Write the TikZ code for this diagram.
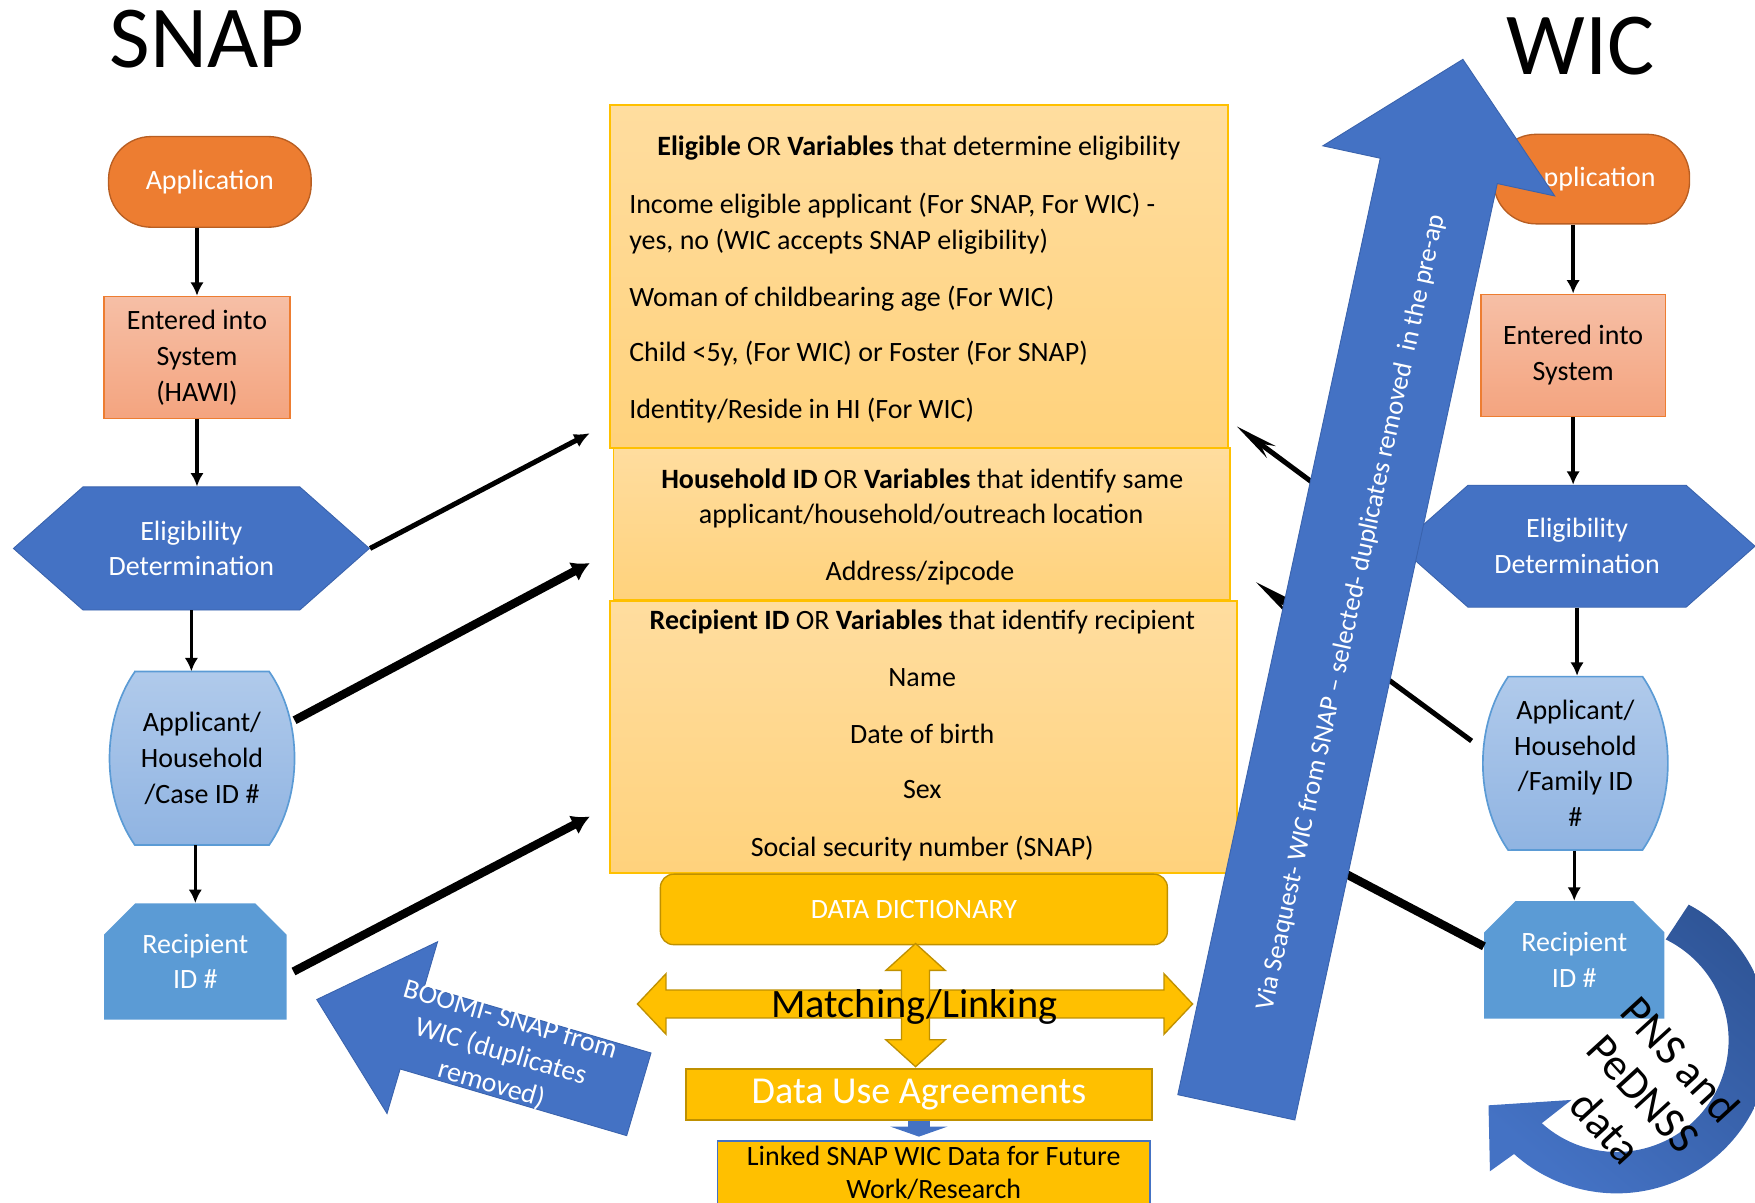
\documentclass[tikz,border=0pt]{standalone}
\usepackage{fontspec}
\setmainfont{Carlito}
\usetikzlibrary{arrows.meta,shapes.misc,shapes.symbols,calc}

\definecolor{appOrange}{HTML}{ED7D31}
\definecolor{appLine}{HTML}{B85E22}
\definecolor{entTop}{HTML}{F6BFA6}
\definecolor{entBot}{HTML}{F4A47F}
\definecolor{hexBlue}{HTML}{4472C4}
\definecolor{hexLine}{HTML}{3A63AD}
\definecolor{idTop}{HTML}{B0CAEB}
\definecolor{idBot}{HTML}{90B4E2}
\definecolor{idLine}{HTML}{5B9BD5}
\definecolor{recBlue}{HTML}{5B9BD5}
\definecolor{varTop}{HTML}{FFDD9F}
\definecolor{varBot}{HTML}{FFD27C}
\definecolor{gold}{HTML}{FFC000}
\definecolor{goldLine}{HTML}{BF9000}
\definecolor{darkBlue}{HTML}{2F5597}

% barrel outline behind the household id nodes (centre x, centre y)
\newcommand{\barrel}[2]{%
  \path[idshape] (#1-60,#2-77.5) -- (#1+60,#2-77.5)
    arc[start angle=-43.5, end angle=43.5, x radius=82.5, y radius=112.5]
    -- (#1-60,#2+77.5)
    arc[start angle=136.5, end angle=223.5, x radius=82.5, y radius=112.5] -- cycle;}

\begin{document}
\begin{tikzpicture}[x=1pt, y=-1pt,
  every node/.style={font=\fontsize{25}{32}\selectfont, inner sep=0pt, align=center},
  term/.style={draw=appLine, line width=1.2pt, fill=appOrange, rounded corners=38pt, minimum width=181pt, minimum height=81pt, text=white},
  entry/.style={draw=appOrange, line width=1.5pt, top color=entTop, bottom color=entBot, minimum width=166pt, minimum height=109pt},
  hexa/.style={signal, signal to=west and east, signal pointer angle=83, fill=hexBlue, draw=hexLine, line width=.8pt, minimum width=318pt, minimum height=110pt, text=white},
  idshape/.style={draw=idLine, line width=1.5pt, top color=idTop, bottom color=idBot},
  hhid/.style={minimum width=165pt, minimum height=155pt},
  recid/.style={chamfered rectangle, chamfered rectangle corners={north west,north east}, chamfered rectangle xsep=14pt, chamfered rectangle ysep=14pt, fill=recBlue, minimum width=163pt, minimum height=104pt, text=white},
  varbox/.style={draw=gold, line width=1.5pt, top color=varTop, bottom color=varBot},
  vtxt/.style={anchor=base},
  gbox/.style={fill=gold, draw=goldLine, line width=1.2pt},
  flow/.style={-{Latex[length=12pt,width=12pt]}, line width=3pt},
  link/.style={-{Latex[length=16pt,width=19pt]}, line width=7.5pt},
  back/.style={-{Stealth[length=38pt,width=13pt]}, line width=4.5pt},
  bigarrow/.style={fill=hexBlue, draw=hexLine, line width=.8pt},
  dbl/.style={fill=gold, draw=goldLine, line width=1.2pt}
]
\useasboundingbox (0,0) rectangle (1568,1074);

\node[anchor=base, font=\fontsize{79}{79}\selectfont] (snap) at (185,60) {SNAP};
\node[anchor=base, font=\fontsize{79}{79}\selectfont] (wic) at (1412.5,67) {WIC};

% SNAP side
\node[term] (appS) at (187.5,162.5) {Application};
\node[entry] (entS) at (176,319.5) {Entered into\\System\\(HAWI)};
\node[hexa] (eligS) at (171,490) {Eligibility\\Determination};
\barrel{180.5}{677.5}
\node[hhid] (hhS) at (180.5,677.5) {Applicant/\\Household\\/Case ID \#};
\node[recid] (recS) at (174.5,859) {Recipient\\ID \#};

\draw[flow] (entS.north |- appS.south) -- (entS.north);
\draw[flow] (entS.south) -- (entS.south |- eligS.north);
\draw[flow] (eligS.south) -- (eligS.south |- hhS.north);
\draw[flow] (recS.north |- hhS.south) -- (recS.north);

% variables
\node[varbox, minimum width=552pt, minimum height=306pt] (var1) at (821,247) {};
\node[varbox, minimum width=551pt, minimum height=136pt] (var2) at (823.5,468) {};
\node[varbox, minimum width=560pt, minimum height=243pt] (var3) at (825,658.5) {};

\node[vtxt] (t11) at (821,139) {\textbf{Eligible} OR \textbf{Variables} that determine eligibility};
\node[vtxt, anchor=base west] (t12) at (562,191) {Income eligible applicant (For SNAP, For WIC) -};
\node[vtxt, anchor=base west] (t13) at (562,223) {yes, no (WIC accepts SNAP eligibility)};
\node[vtxt, anchor=base west] (t14) at (562,274) {Woman of childbearing age (For WIC)};
\node[vtxt, anchor=base west] (t15) at (562,323) {Child <5y, (For WIC) or Foster (For SNAP)};
\node[vtxt, anchor=base west] (t16) at (562,374) {Identity/Reside in HI (For WIC)};

\node[vtxt] (t21) at (824,436) {\textbf{Household ID} OR \textbf{Variables} that identify same};
\node[vtxt] (t22) at (823,468) {applicant/household/outreach location};
\node[vtxt] (t23) at (822,519) {Address/zipcode};

\node[vtxt] (t31) at (824,562) {\textbf{Recipient ID} OR \textbf{Variables} that identify recipient};
\node[vtxt] (t32) at (824,613) {Name};
\node[vtxt] (t33) at (824,664) {Date of birth};
\node[vtxt] (t34) at (824,713) {Sex};
\node[vtxt] (t35) at (824,765) {Social security number (SNAP)};

% dictionary and matching
\node[gbox, rounded corners=12pt, minimum width=453pt, minimum height=63pt, text=white] (dict) at (816.5,812.5) {DATA DICTIONARY};
\path[dbl] (569.5,897) -- (595,870) -- (595,884.5) -- (1040,884.5) -- (1040,870) -- (1065.5,897)
  -- (1040,924) -- (1040,909.5) -- (595,909.5) -- (595,924) -- cycle;
\path[dbl] (818,843) -- (844.5,867) -- (830.5,867) -- (830.5,929) -- (844.5,929) -- (818,953)
  -- (791.5,929) -- (805.5,929) -- (805.5,867) -- (791.5,867) -- cycle;
\node[font=\fontsize{36}{36}\selectfont] (match) at (817,900) {Matching/Linking};
\node[gbox, minimum width=416.5pt, minimum height=45.5pt, text=white, font=\fontsize{34}{34}\selectfont] (dua) at (821,977.75) {Data Use Agreements};
\node[fill=gold, draw=hexBlue, line width=1.5pt, anchor=north, inner ysep=1pt, minimum width=386.5pt, minimum height=58pt, font=\fontsize{25}{29.5}\selectfont] (linked) at (834.25,1018.5) {Linked SNAP WIC Data for Future\\Work/Research};
\draw[-{Triangle[length=9pt,width=51pt]}, line width=19pt, hexBlue, shorten >=3pt] (dua.south) -- (dua.south |- linked.north);

% links from SNAP
\coordinate (inElig) at (527,387);
\coordinate (inHouse) at (527,503);
\coordinate (inRecip) at (527,729.5);
\draw[-{Latex[length=14pt,width=13pt]}, line width=4.5pt] (eligS.east) -- (inElig);
\draw[link] ([yshift=34pt]hhS.east) -- (inHouse);
\draw[link] ([xshift=6pt,yshift=-9pt]recS.east) -- (inRecip);

% WIC side
\node[term, minimum width=175pt, minimum height=80pt] (appW) at (1422,160) {Application};
\node[entry, minimum width=165pt] (entW) at (1405.5,317.5) {Entered into\\System};
\node[hexa, minimum height=109pt] (eligW) at (1409,488) {Eligibility\\Determination};
\barrel{1407.5}{682}
\node[hhid, minimum height=156pt] (hhW) at (1407.5,682) {Applicant/\\Household\\/Family ID\\\#};
\node[recid, minimum width=161pt, minimum height=105pt] (recW) at (1406.5,857.5) {Recipient\\ID \#};

\draw[flow] (entW.north |- appW.south) -- (entW.north);
\draw[flow] (entW.south) -- (entW.south |- eligW.north);
\draw[flow] (eligW.south) -- (eligW.south |- hhW.north);
\draw[flow] (recW.north |- hhW.south) -- (recW.north);

\coordinate (wElig) at (1105,381);
\coordinate (wHouse) at (1122,520);
\draw[back] (eligW.west) -- (wElig);
\draw[back] ([xshift=-10pt,yshift=20pt]hhW.west) -- (wHouse);
\draw[link] ([yshift=12pt]recW.west) -- ([yshift=-71.5pt]var3.east);

% Seaquest arrow
\begin{scope}[shift={(1307,53)}, rotate=-102.2]
  \path[bigarrow] (0,0) -- (102,-106) -- (102,-53.5) -- (958,-53.5) -- (958,53.5) -- (102,53.5) -- (102,106) -- cycle;
  \node[rotate=77.8, text=white, font=\fontsize{23.8}{28}\selectfont] (seaq) at (504,-7)
    {Via Seaquest- WIC from SNAP -- selected- duplicates removed\ \ in the pre-ap};
\end{scope}

% BOOMI arrow
\begin{scope}[shift={(283,893)}, rotate=-16.4]
  \path[bigarrow] (0,0) -- (89,-80) -- (89,-38.5) -- (300,-38.5) -- (300,38.5) -- (89,38.5) -- (89,80) -- cycle;
  \node[rotate=-16.4, text=white, font=\fontsize{25}{30}\selectfont] (boomi) at (171,-1)
    {BOOMI- SNAP from\\WIC (duplicates\\removed)};
\end{scope}

% PNS loop
\begin{scope}[shift={(1444.4,929.2)}]
  \path[top color=darkBlue, bottom color=hexBlue, shading angle=-40]
    (-62:137) arc[start angle=-62, end angle=132, radius=137] -- (134:163) -- (153:128.5)
    -- (127:67) -- (132:100) arc[start angle=132, end angle=-64, radius=100] -- cycle;
  \node[rotate=-47.6, font=\fontsize{40}{45}\selectfont] (pns) at (23.8,47.6) {PNS and\\PeDNSS\\data};
\end{scope}

\end{tikzpicture}
\end{document}
